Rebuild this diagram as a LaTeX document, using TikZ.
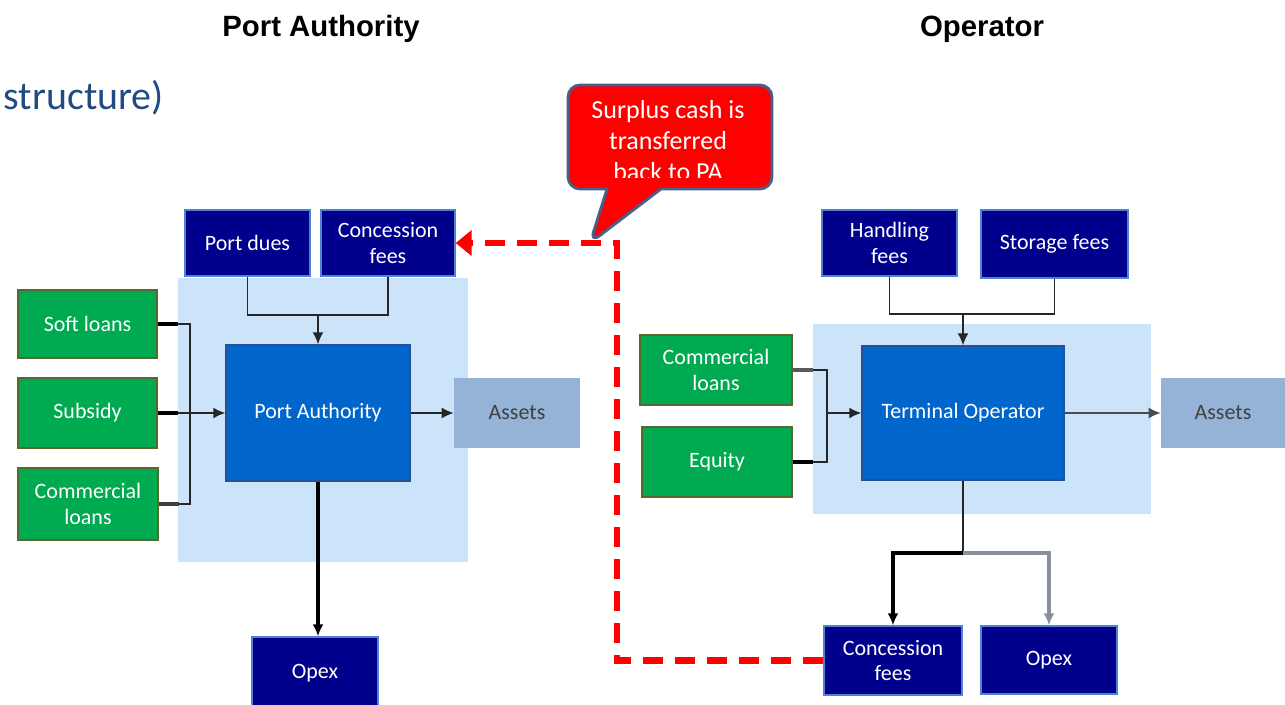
\documentclass[tikz,border=0pt]{standalone}
\usepackage{fontspec}
\setmainfont{Carlito}
\newfontfamily\headfont{Liberation Sans}
\usetikzlibrary{positioning, calc, arrows.meta, shapes.callouts}

\definecolor{navyfill}{RGB}{0,0,140}
\definecolor{navyedge}{RGB}{80,130,210}
\definecolor{loanfill}{RGB}{0,170,80}
\definecolor{loanedge}{RGB}{85,105,45}
\definecolor{entityfill}{RGB}{0,102,204}
\definecolor{entityedge}{RGB}{40,80,150}
\definecolor{regionfill}{RGB}{204,228,250}
\definecolor{assetfill}{RGB}{149,179,215}
\definecolor{slidetext}{RGB}{31,75,130}
\definecolor{calloutedge}{RGB}{70,95,140}
\definecolor{branchgray}{RGB}{135,145,155}

\tikzset{
    boxtext/.style={font=\fontsize{12.5}{14.5}\selectfont, align=center},
    feebox/.style={rectangle, boxtext, fill=navyfill, draw=navyedge, line width=0.8pt, text=white},
    loanbox/.style={rectangle, boxtext, fill=loanfill, draw=loanedge, line width=1.2pt, text=white},
    entitybox/.style={rectangle, boxtext, fill=entityfill, draw=entityedge, line width=0.8pt, text=white},
    assetbox/.style={rectangle, boxtext, fill=assetfill, text={black!75}},
    link/.style={draw=black!85, line width=1pt},
    stub/.style={draw=black, line width=2.6pt},
    flow/.style={link, -{Latex[length=0.24cm, width=0.22cm]}},
    surplusline/.style={draw=red, line width=3.7pt, dash pattern=on 0.4cm off 0.24cm,
        -{Triangle[length=0.32cm, width=0.5cm]}},
}

\begin{document}
\begin{tikzpicture}[x=0.02cm, y=-0.02cm]
    \useasboundingbox (0,0) rectangle (1285,705);

    % headings
    \node[anchor=base, font=\headfont\bfseries\fontsize{16.7}{18}\selectfont] (headPA) at (321,37) {Port Authority};
    \node[anchor=base, font=\headfont\bfseries\fontsize{16.7}{18}\selectfont] (headOP) at (982,37) {Operator};
    \node[anchor=base east, text=slidetext, font=\fontsize{22.7}{26}\selectfont, inner sep=0pt] (slide) at (164,110) {structure)};

    % light blue regions
    \fill[regionfill] (178,278) rectangle (468,562);
    \fill[regionfill] (813,324) rectangle (1151,514);

    % Port Authority side
    \node[feebox, minimum width=2.5cm, minimum height=1.32cm] (pdues) at (247.5,243) {Port dues};
    \node[feebox, minimum width=2.68cm, minimum height=1.32cm] (cfee) at (388,243) {Concession\\fees};
    \node[loanbox, minimum width=2.78cm, minimum height=1.36cm] (soft) at (87.5,324) {Soft loans};
    \node[loanbox, minimum width=2.78cm, minimum height=1.4cm] (subsidy) at (87.5,413) {Subsidy};
    \node[loanbox, minimum width=2.8cm, minimum height=1.44cm] (cloan) at (88,504) {Commercial\\loans};
    \node[entitybox, minimum width=3.68cm, minimum height=2.72cm] (pa) at (318,413) {Port Authority};
    \node[assetbox, minimum width=2.52cm, minimum height=1.4cm] (assetsA) at (517,413) {Assets};
    \node[feebox, minimum width=2.52cm, minimum height=1.44cm] (opexA) at (315,673) {Opex};

    % Operator side
    \node[feebox, minimum width=2.7cm, minimum height=1.32cm] (hfee) at (889.5,243) {Handling\\fees};
    \node[feebox, minimum width=2.94cm, minimum height=1.36cm] (sfee) at (1054.5,244) {Storage fees};
    \node[loanbox, minimum width=3.04cm, minimum height=1.4cm] (cloanB) at (716,370) {Commercial\\loans};
    \node[loanbox, minimum width=3.0cm, minimum height=1.4cm] (equity) at (717,462) {Equity};
    \node[entitybox, minimum width=4.04cm, minimum height=2.68cm] (top) at (963,413) {Terminal Operator};
    \node[assetbox, minimum width=2.48cm, minimum height=1.4cm] (assetsB) at (1223,413) {Assets};
    \node[feebox, minimum width=2.76cm, minimum height=1.38cm] (cfeeB) at (893,660.5) {Concession\\fees};
    \node[feebox, minimum width=2.72cm, minimum height=1.36cm] (opexB) at (1049,660) {Opex};

    % joins
    \coordinate (paJoin) at (318,315);
    \coordinate (finJoin) at (190,413);
    \coordinate (toJoin) at (963,314);
    \coordinate (finJoinB) at (827,413);
    \coordinate (outJoin) at (963,553);
    \coordinate (redTurn) at (617,243);

    % PA connectors
    \draw[link] (pdues.south) |- (paJoin) -| (cfee.south);
    \draw[flow] (paJoin) -- (pa.north);
    \draw[link] (soft.east) -| (finJoin) |- (cloan.east);
    \draw[flow] (subsidy.east) -- (pa.west);
    \draw[stub] (soft.east) -- ++(20,0);
    \draw[stub] (subsidy.east) -- ++(20,0);
    \draw[stub, draw=black!75] (cloan.east) -- ++(20,0);
    \draw[flow] (pa.east) -- (assetsA.west);
    \draw[flow, line width=1.8pt, draw=black] (pa.south) -- (pa.south |- opexA.north);

    % operator connectors
    \draw[link] (hfee.south) |- (toJoin) -| (sfee.south);
    \draw[flow] (toJoin) -- (top.north);
    \draw[link] (cloanB.east) -| (finJoinB) |- (equity.east);
    \draw[stub, draw=black!65] (cloanB.east) -- ++(20,0);
    \draw[stub] (equity.east) -- ++(20,0);
    \draw[flow] (finJoinB) -- (top.west);
    \draw[flow, draw=black!70] (top.east) -- (assetsB.west);
    \draw[link, line width=1.6pt] (top.south) -- (outJoin);
    \draw[flow, line width=1.8pt, draw=black] (outJoin) -| (cfeeB.north);
    \draw[flow, line width=1.8pt, draw=branchgray] (outJoin) -| (opexB.north);

    % surplus cash back to the Port Authority
    \draw[surplusline] (cfeeB.west) -| (redTurn) -- (cfee.east);

    \node[rectangle callout, fill=red, draw=calloutedge, line width=1.6pt, rounded corners=0.24cm,
        minimum width=4.08cm, minimum height=2.08cm, callout absolute pointer={(590,243)},
        callout pointer width=1.08cm] (surplus) at (670,137) {};
    \begin{scope}
        \clip (568,85) rectangle (772,178);
        \node[text=white, align=center, font=\fontsize{14.8}{17.6}\selectfont, anchor=north] (surplusText) at (668,94)
            {Surplus cash is\\transferred\\back to PA};
    \end{scope}
\end{tikzpicture}
\end{document}
